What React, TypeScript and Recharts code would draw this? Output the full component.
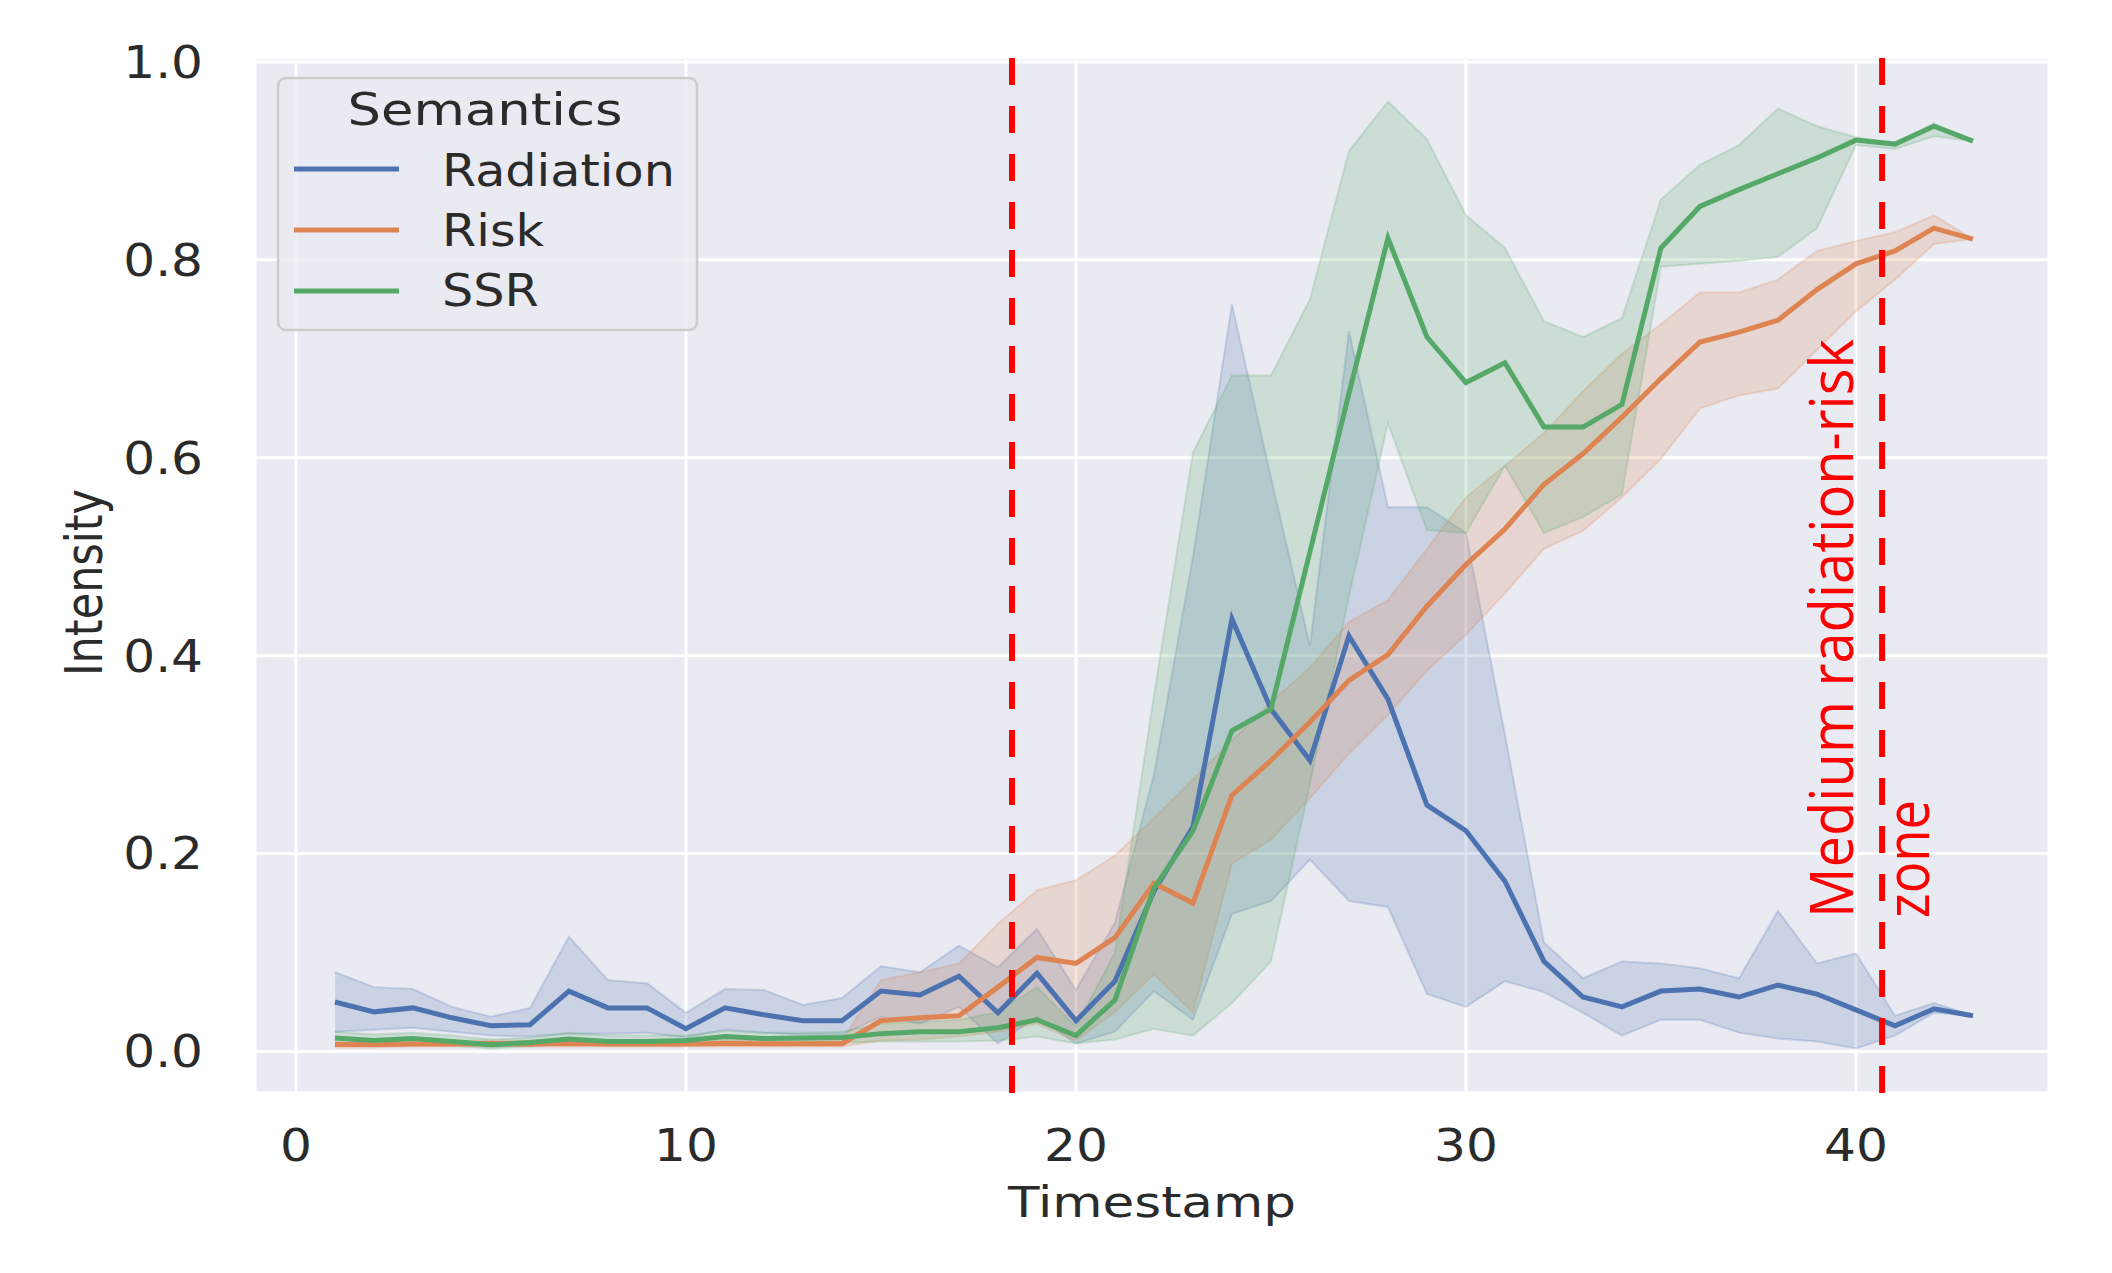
import React from "react";
import {
  ComposedChart,
  Area,
  Line,
  XAxis,
  YAxis,
  CartesianGrid,
  ReferenceLine,
} from "recharts";

// values (seaborn lineplot, mean + 95% CI band)
const timestamps = [
  1, 2, 3, 4, 5, 6, 7, 8, 9, 10, 11, 12, 13, 14, 15, 16, 17, 18, 19, 20, 21, 22,
  23, 24, 25, 26, 27, 28, 29, 30, 31, 32, 33, 34, 35, 36, 37, 38, 39, 40, 41, 42, 43,
];

const radiation = [
  0.05, 0.04, 0.044, 0.034, 0.026, 0.027, 0.061, 0.044, 0.044, 0.023, 0.044, 0.037, 0.031, 0.031,
  0.061, 0.057, 0.076, 0.039, 0.079, 0.031, 0.071, 0.162, 0.227, 0.437, 0.346, 0.294, 0.42, 0.356,
  0.249, 0.223, 0.172, 0.091, 0.055, 0.045, 0.061, 0.063, 0.055, 0.067, 0.058, 0.042, 0.026, 0.043,
  0.036,
];
const radiationLow = [
  0.02, 0.022, 0.024, 0.02, 0.016, 0.015, 0.018, 0.018, 0.019, 0.014, 0.022, 0.019, 0.017, 0.017,
  0.035, 0.028, 0.045, 0.008, 0.035, 0.008, 0.02, 0.061, 0.032, 0.139, 0.152, 0.194, 0.152, 0.146,
  0.058, 0.045, 0.071, 0.06, 0.039, 0.016, 0.032, 0.032, 0.019, 0.013, 0.01, 0.003, 0.016, 0.039,
  0.036,
];
const radiationHigh = [
  0.08, 0.065, 0.063, 0.045, 0.035, 0.044, 0.116, 0.072, 0.069, 0.039, 0.063, 0.062, 0.047, 0.054,
  0.086, 0.08, 0.107, 0.085, 0.124, 0.062, 0.13, 0.28, 0.5, 0.755, 0.58, 0.41, 0.728, 0.55, 0.55,
  0.524, 0.32, 0.11, 0.074, 0.091, 0.089, 0.084, 0.074, 0.142, 0.089, 0.099, 0.036, 0.049, 0.036,
];

const risk = [
  0.007, 0.007, 0.0075, 0.0075, 0.008, 0.0075, 0.008, 0.0075, 0.0075, 0.0075, 0.008, 0.0078, 0.0078,
  0.0078, 0.031, 0.034, 0.036, 0.065, 0.095, 0.089, 0.115, 0.17, 0.15, 0.259, 0.294, 0.333, 0.375,
  0.401, 0.45, 0.492, 0.528, 0.573, 0.604, 0.641, 0.68, 0.717, 0.727, 0.739, 0.77, 0.796, 0.809,
  0.832, 0.821,
];
const riskLow = [
  0.004, 0.004, 0.005, 0.005, 0.005, 0.005, 0.005, 0.005, 0.005, 0.005, 0.005, 0.005, 0.005, 0.005,
  0.011, 0.012, 0.015, 0.02, 0.028, 0.011, 0.04, 0.078, 0.039, 0.19, 0.214, 0.256, 0.301, 0.34,
  0.385, 0.421, 0.463, 0.508, 0.526, 0.56, 0.599, 0.65, 0.663, 0.67, 0.709, 0.748, 0.78, 0.816, 0.821,
];
const riskHigh = [
  0.01, 0.01, 0.011, 0.011, 0.011, 0.011, 0.012, 0.011, 0.011, 0.011, 0.012, 0.011, 0.011, 0.011,
  0.072, 0.08, 0.089, 0.129, 0.163, 0.173, 0.198, 0.236, 0.275, 0.314, 0.353, 0.388, 0.434, 0.456,
  0.508, 0.56, 0.592, 0.625, 0.667, 0.705, 0.735, 0.767, 0.767, 0.78, 0.809, 0.819, 0.828, 0.845,
  0.821,
];

const ssr = [
  0.0135, 0.011, 0.013, 0.01, 0.0067, 0.009, 0.0125, 0.01, 0.01, 0.011, 0.015, 0.013, 0.0135, 0.014,
  0.018, 0.02, 0.02, 0.024, 0.032, 0.016, 0.052, 0.165, 0.223, 0.324, 0.346, 0.505, 0.665, 0.822,
  0.722, 0.676, 0.696, 0.631, 0.631, 0.654, 0.812, 0.854, 0.871, 0.887, 0.903, 0.921, 0.917, 0.935,
  0.92,
];
const ssrLow = [
  0.008, 0.006, 0.008, 0.006, 0.003, 0.005, 0.008, 0.006, 0.006, 0.007, 0.01, 0.008, 0.009, 0.009,
  0.01, 0.01, 0.01, 0.011, 0.015, 0.008, 0.012, 0.023, 0.016, 0.049, 0.091, 0.27, 0.46, 0.635,
  0.527, 0.524, 0.592, 0.524, 0.54, 0.563, 0.793, 0.796, 0.799, 0.803, 0.832, 0.916, 0.912, 0.925,
  0.92,
];
const ssrHigh = [
  0.02, 0.017, 0.019, 0.016, 0.012, 0.014, 0.019, 0.016, 0.016, 0.016, 0.021, 0.019, 0.019, 0.02,
  0.028, 0.03, 0.032, 0.04, 0.065, 0.025, 0.1, 0.36, 0.605, 0.683, 0.683, 0.76, 0.91, 0.96, 0.922,
  0.845, 0.812, 0.738, 0.722, 0.741, 0.861, 0.896, 0.916, 0.953, 0.935, 0.924, 0.917, 0.938, 0.92,
];

const xTicks = [0, 10, 20, 30, 40];
const yTicks = [0, 0.2, 0.4, 0.6, 0.8, 1.0];
const zoneStart = 18.36;
const zoneEnd = 40.67;

const series = [
  { key: "radiation", name: "Radiation", color: "#4c72b0" },
  { key: "risk", name: "Risk", color: "#dd8452" },
  { key: "ssr", name: "SSR", color: "#55a868" },
];

const data = timestamps.map((t, i) => ({
  t,
  radiation: radiation[i],
  radiationBand: [radiationLow[i], radiationHigh[i]],
  risk: risk[i],
  riskBand: [riskLow[i], riskHigh[i]],
  ssr: ssr[i],
  ssrBand: [ssrLow[i], ssrHigh[i]],
}));

const FONT = "DejaVu Sans";
const TEXT = "#2b2b2b";
const STRETCH = "scale(1.14,1)"; // the reference is stretched a bit horizontally

const XTick = ({ x, y, payload }: any) => (
  <text
    transform={`translate(${x},${y}) ${STRETCH}`}
    textAnchor="middle"
    dy="0.71em"
    fontSize={44}
    fontFamily={FONT}
    fill={TEXT}
  >
    {payload.value}
  </text>
);

const YTick = ({ x, y, payload }: any) => (
  <text
    transform={`translate(${x},${y}) ${STRETCH}`}
    textAnchor="end"
    dy="0.36em"
    fontSize={44}
    fontFamily={FONT}
    fill={TEXT}
  >
    {Number(payload.value).toFixed(1)}
  </text>
);

const XLabel = ({ viewBox }: any) => (
  <text
    transform={`translate(${viewBox.x + viewBox.width / 2},${viewBox.y + 124}) scale(1.2,1)`}
    textAnchor="middle"
    fontSize={43}
    fontFamily={FONT}
    fill={TEXT}
  >
    Timestamp
  </text>
);

const YLabel = ({ viewBox }: any) => (
  <text
    transform={`translate(${viewBox.x + 47},${viewBox.y + viewBox.height / 2 + 7}) scale(1.2,1) rotate(-90)`}
    textAnchor="middle"
    fontSize={43}
    fontFamily={FONT}
    fill={TEXT}
  >
    Intensity
  </text>
);

const ZoneLabel = ({ viewBox }: any) => {
  const bottom = viewBox.y + viewBox.height - 175;
  return (
    <g fill="#ff0000" fontFamily="Open Sans" fontSize={50}>
      <text
        transform={`translate(${viewBox.x - 29},${bottom}) scale(1.2,1) rotate(-90)`}
        textLength={579}
        lengthAdjust="spacingAndGlyphs"
      >
        Medium radiation-risk
      </text>
      <text
        transform={`translate(${viewBox.x + 47},${bottom}) scale(1.2,1) rotate(-90)`}
        textLength={118}
        lengthAdjust="spacingAndGlyphs"
      >
        zone
      </text>
    </g>
  );
};

function LegendBox() {
  return (
    <svg
      width={425}
      height={258}
      style={{ position: "absolute", left: 275, top: 75 }}
    >
      <g transform="translate(3,3)">
        <rect
          x={0}
          y={0}
          width={419}
          height={252}
          rx={8}
          fill="#eaeaf2"
          fillOpacity={0.8}
          stroke="#cccccc"
          strokeWidth={2.5}
        />
        <text
          transform={`translate(207,47) scale(1.2,1)`}
          textAnchor="middle"
          fontSize={44}
          fontFamily={FONT}
          fill={TEXT}
        >
          Semantics
        </text>
        {series.map((s, i) => (
          <g key={s.key}>
            <line x1={16} x2={121} y1={91 + i * 61} y2={91 + i * 61} stroke={s.color} strokeWidth={5} />
            <text
              transform={`translate(164,${108 + i * 60}) scale(1.12,1)`}
              fontSize={44}
              fontFamily={FONT}
              fill={TEXT}
            >
              {s.name}
            </text>
          </g>
        ))}
      </g>
    </svg>
  );
}

export default function App() {
  return (
    <div style={{ position: "absolute", left: 0, top: 0, width: 2112, height: 1273, background: "#fff" }}>
      <ComposedChart
        width={2112}
        height={1273}
        data={data}
        margin={{ top: 58, right: 63, bottom: 30, left: 55 }}
      >
        <CartesianGrid fill="#eaeaf2" fillOpacity={1} stroke="#ffffff" strokeWidth={3} />
        <XAxis
          dataKey="t"
          type="number"
          domain={[-1.05, 44.95]}
          ticks={xTicks}
          allowDataOverflow
          axisLine={false}
          tickLine={false}
          tickSize={0}
          tickMargin={37}
          height={150}
          tick={<XTick />}
          label={(p: any) => <XLabel {...p} />}
        />
        <YAxis
          type="number"
          domain={[-0.042, 1.004]}
          ticks={yTicks}
          allowDataOverflow
          axisLine={false}
          tickLine={false}
          tickSize={0}
          tickMargin={52}
          width={200}
          tick={<YTick />}
          label={(p: any) => <YLabel {...p} />}
        />
        {series.map((s) => (
          <Area
            key={s.key + "Band"}
            dataKey={s.key + "Band"}
            type="linear"
            fill={s.color}
            fillOpacity={0.2}
            stroke={s.color}
            strokeOpacity={0.22}
            strokeWidth={2}
            isAnimationActive={false}
            activeDot={false}
          />
        ))}
        {series.map((s) => (
          <Line
            key={s.key}
            dataKey={s.key}
            type="linear"
            stroke={s.color}
            strokeWidth={5}
            dot={false}
            activeDot={false}
            isAnimationActive={false}
          />
        ))}
        <ReferenceLine x={zoneStart} stroke="#ff0000" strokeWidth={6} strokeDasharray="27 21" />
        <ReferenceLine
          x={zoneEnd}
          stroke="#ff0000"
          strokeWidth={6}
          strokeDasharray="27 21"
          label={(p: any) => <ZoneLabel {...p} />}
        />
      </ComposedChart>
      <LegendBox />
    </div>
  );
}
